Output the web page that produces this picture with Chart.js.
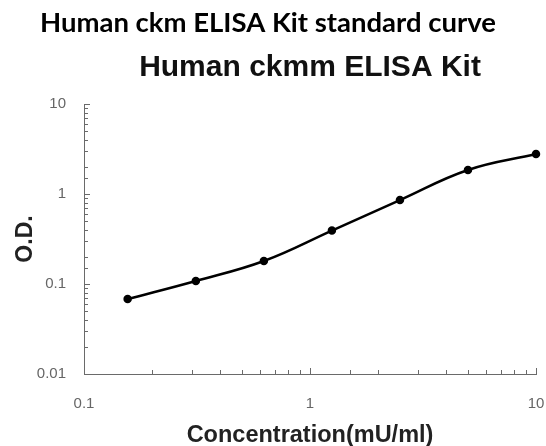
<!DOCTYPE html>
<html>
<head>
<meta charset="utf-8">
<script src="https://cdn.jsdelivr.net/npm/chart.js@4/dist/chart.umd.min.js"></script>
<style>
  html, body { margin: 0; padding: 0; background: #fff; }
  #wrap { width: 546px; height: 446px; }
</style>
</head>
<body>
<div id="wrap"><canvas id="c" width="546" height="446"></canvas></div>
<script>
const titleText = 'Human ckm ELISA Kit standard curve';
const subtitleText = 'Human ckmm ELISA Kit';
const xAxisTitle = 'Concentration(mU/ml)';
const yAxisTitle = 'O.D.';
const concentrations = [0.156, 0.3125, 0.625, 1.25, 2.5, 5, 10];
const odValues = [0.068, 0.108, 0.180, 0.392, 0.857, 1.85, 2.78];
const xTickLabels = ['0.1', '1', '10'];
const yTickLabels = ['0.01', '0.1', '1', '10'];

function labelFor(v, list) {
  for (const s of list) {
    if (Math.abs(Math.log10(v) - Math.log10(parseFloat(s))) < 1e-6) return s;
  }
  return null;
}

const innerTicks = {
  id: 'innerTicks',
  afterDraw(chart) {
    const ctx = chart.ctx;
    const xs = chart.scales.x, ys = chart.scales.y;
    ctx.save();
    ctx.strokeStyle = '#6a6a6a';
    ctx.lineWidth = 1;
    ctx.beginPath();
    for (const t of xs.ticks) {
      const px = Math.round(xs.getPixelForValue(t.value)) + 0.5;
      const len = labelFor(t.value, xTickLabels) ? 6 : 4;
      ctx.moveTo(px, ys.bottom);
      ctx.lineTo(px, ys.bottom - len);
    }
    for (const t of ys.ticks) {
      const py = Math.round(ys.getPixelForValue(t.value)) + 0.5;
      const len = labelFor(t.value, yTickLabels) ? 6 : 4;
      ctx.moveTo(xs.left, py);
      ctx.lineTo(xs.left + len, py);
    }
    ctx.stroke();
    ctx.restore();
  }
};

new Chart(document.getElementById('c'), {
  type: 'line',
  data: {
    datasets: [{
      data: concentrations.map((x, i) => ({ x: x, y: odValues[i] })),
      borderColor: '#000',
      backgroundColor: '#000',
      borderWidth: 2.5,
      pointRadius: 3,
      pointBackgroundColor: '#000',
      pointBorderColor: '#000',
      tension: 0.4,
      clip: false,
      fill: false
    }]
  },
  options: {
    responsive: false,
    animation: false,
    devicePixelRatio: 1,
    layout: { padding: { left: 0, right: 10, top: 0, bottom: 0 } },
    plugins: {
      legend: { display: false },
      tooltip: { enabled: false },
      title: {
        display: true,
        text: titleText,
        color: '#000',
        font: { family: 'Lato', size: 27.5, weight: 'bold', lineHeight: 1.2 },
        padding: { top: 7, bottom: 0 },
        fullSize: true
      },
      subtitle: {
        display: true,
        text: subtitleText,
        color: '#111',
        font: { family: 'Liberation Sans', size: 30, weight: 'bold', lineHeight: 1.2 },
        padding: { top: 10, bottom: 104 - 7 - 33 - 10 - 36 },
        fullSize: false
      }
    },
    scales: {
      x: {
        type: 'logarithmic',
        min: 0.1,
        max: 10,
        afterFit(s) { s.height = 72; s.paddingRight = 0; s.paddingLeft = 0; },
        grid: { display: false },
        border: { display: true, color: '#6a6a6a', width: 1 },
        ticks: {
          autoSkip: false,
          maxRotation: 0,
          padding: 13,
          color: '#666',
          font: { family: 'Liberation Sans', size: 15 },
          callback(v) { return labelFor(v, xTickLabels) || ''; }
        },
        title: {
          display: true,
          text: xAxisTitle,
          color: '#222',
          font: { family: 'Liberation Sans', size: 23.5, weight: 'bold', lineHeight: 1 },
          padding: { top: 0, bottom: -1 }
        }
      },
      y: {
        type: 'logarithmic',
        min: 0.01,
        max: 10,
        afterFit(s) { s.width = 84; s.paddingTop = 0; s.paddingBottom = 0; },
        grid: { display: false },
        border: { display: true, color: '#6a6a6a', width: 1 },
        ticks: {
          autoSkip: false,
          padding: 10,
          color: '#666',
          font: { family: 'Liberation Sans', size: 15 },
          callback(v) { return labelFor(v, yTickLabels) || ''; }
        },
        title: {
          display: true,
          text: yAxisTitle,
          color: '#222',
          font: { family: 'Liberation Sans', size: 23, weight: 'bold', lineHeight: 1.2 },
          padding: { top: 12, bottom: 0 }
        }
      }
    }
  },
  plugins: [innerTicks]
});
</script>
</body>
</html>
